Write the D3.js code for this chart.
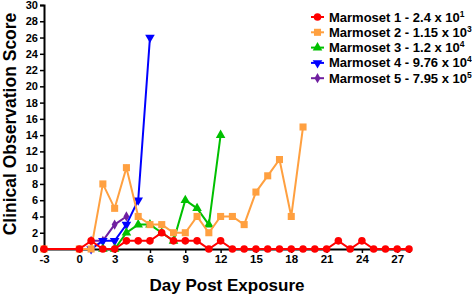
<!DOCTYPE html>
<html lang="en">
<head>
<meta charset="utf-8">
<title>Clinical Observation Score</title>
<style>
  body { margin: 0; background: #fff; }
  text { font-family: "Liberation Sans", Arial, sans-serif; font-weight: bold; }
</style>
<script src="https://d3js.org/d3.v7.min.js"></script>
</head>
<body>
<script>
// data
const seriesNames = ["Marmoset 1 - 2.4 x 10", "Marmoset 2 - 1.15 x 10", "Marmoset 3 - 1.2 x 10", "Marmoset 4 - 9.76 x 10", "Marmoset 5 - 7.95 x 10"];
const seriesExp = ["1", "3", "4", "4", "5"];
const colors = ["#ff0000", "#ffa040", "#00c000", "#0000ff", "#7020a0"];
const shapes = ["circle", "square", "triangleUp", "triangleDown", "diamond"];

const m1Days = [-3, 0, 1, 2, 3, 4, 5, 6, 7, 8, 9, 10, 11, 12, 13, 14, 15, 16, 17, 18, 19, 20, 21, 22, 23, 24, 25, 26, 27, 28];
const m1Vals = [0, 0, 1, 0, 0, 1, 1, 1, 2, 1, 1, 1, 0, 1, 0, 0, 0, 0, 0, 0, 0, 0, 0, 1, 0, 1, 0, 0, 0, 0];
const m2Days = [-3, 0, 1, 2, 3, 4, 5, 6, 7, 8, 9, 10, 11, 12, 13, 14, 15, 16, 17, 18, 19];
const m2Vals = [0, 0, 0, 8, 5, 10, 4, 3, 3, 2, 2, 4, 2, 4, 4, 3, 7, 9, 11, 4, 15];
const m3Days = [2, 3, 4, 5, 6, 7, 8, 9, 10, 11, 12];
const m3Vals = [0, 0, 2, 3, 3, 2, 1, 6, 5, 3, 14];
const m4Days = [1, 2, 3, 4, 5, 6];
const m4Vals = [0, 1, 1, 3, 6, 26];
const m5Days = [1, 2, 3, 4];
const m5Vals = [1, 1, 3, 4];

const allDays = [m1Days, m2Days, m3Days, m4Days, m5Days];
const allVals = [m1Vals, m2Vals, m3Vals, m4Vals, m5Vals];
const xTicks = [-3, 0, 3, 6, 9, 12, 15, 18, 21, 24, 27];
const yTicks = d3.range(0, 31, 2);

const width = 472, height = 296;
const svg = d3.select("body").append("svg")
    .attr("width", width)
    .attr("height", height);

const x = d3.scaleLinear().domain([-3, 28]).range([44, 409]);
const y = d3.scaleLinear().domain([0, 30]).range([249, 5]);

// axes
svg.append("g")
    .attr("transform", "translate(0,249)")
    .call(d3.axisBottom(x).tickValues(xTicks).tickFormat(d => String(d)).tickSize(4).tickPadding(2))
    .call(g => g.select(".domain").attr("stroke-width", 2))
    .call(g => g.selectAll("line").attr("stroke-width", 1.5))
    .call(g => g.selectAll("text").style("font-size", "11.5px").attr("fill", "#000"));

svg.append("g")
    .attr("transform", "translate(44,0)")
    .call(d3.axisLeft(y).tickValues(yTicks).tickFormat(d => String(d)).tickSize(4).tickPadding(2))
    .call(g => g.select(".domain").attr("stroke-width", 2))
    .call(g => g.selectAll("line").attr("stroke-width", 1.5))
    .call(g => g.selectAll("text").style("font-size", "11px").attr("fill", "#000"));

svg.append("text")
    .attr("transform", "translate(16,124) rotate(-90)")
    .attr("text-anchor", "middle")
    .style("font-size", "17.5px")
    .text("Clinical Observation Score");

svg.append("text")
    .attr("x", 227).attr("y", 291)
    .attr("text-anchor", "middle")
    .style("font-size", "17px")
    .text("Day Post Exposure");

const symbolOf = {
  circle: d3.symbol().type(d3.symbolCircle).size(45),
  square: d3.symbol().type(d3.symbolSquare).size(50),
  triangleUp: d3.symbol().type(d3.symbolTriangle).size(40),
  triangleDown: d3.symbol().type(d3.symbolTriangle).size(40),
  diamond: d3.symbol().type(d3.symbolDiamond).size(30)
};

const line = d3.line().x(d => x(d[0])).y(d => y(d[1]));

// draw last series first so red sits on top
for (let i = seriesNames.length - 1; i >= 0; i--) {
  const pts = allDays[i].map((d, j) => [d, allVals[i][j]]);
  const g = svg.append("g");
  g.append("path")
      .datum(pts)
      .attr("d", line)
      .attr("fill", "none")
      .attr("stroke", colors[i])
      .attr("stroke-width", 2);
  g.selectAll("path.pt")
      .data(pts)
      .enter()
      .append("path")
      .attr("class", "pt")
      .attr("d", symbolOf[shapes[i]])
      .attr("transform", d => "translate(" + x(d[0]) + "," + y(d[1]) + ")" + (shapes[i] === "triangleDown" ? " rotate(180)" : ""))
      .attr("fill", colors[i]);
}

// legend
const legend = svg.append("g");
seriesNames.forEach((name, i) => {
  const ly = 17 + i * 15.3;
  legend.append("line")
      .attr("x1", 311).attr("x2", 324)
      .attr("y1", ly).attr("y2", ly)
      .attr("stroke", colors[i]).attr("stroke-width", 2);
  legend.append("path")
      .attr("d", symbolOf[shapes[i]])
      .attr("transform", "translate(317.5," + ly + ")" + (shapes[i] === "triangleDown" ? " rotate(180)" : ""))
      .attr("fill", colors[i]);
  const t = legend.append("text")
      .attr("x", 329).attr("y", ly + 4.5)
      .style("font-size", "13px")
      .text(name);
  t.append("tspan")
      .attr("dy", -5)
      .style("font-size", "8.5px")
      .text(seriesExp[i]);
});
</script>
</body>
</html>
